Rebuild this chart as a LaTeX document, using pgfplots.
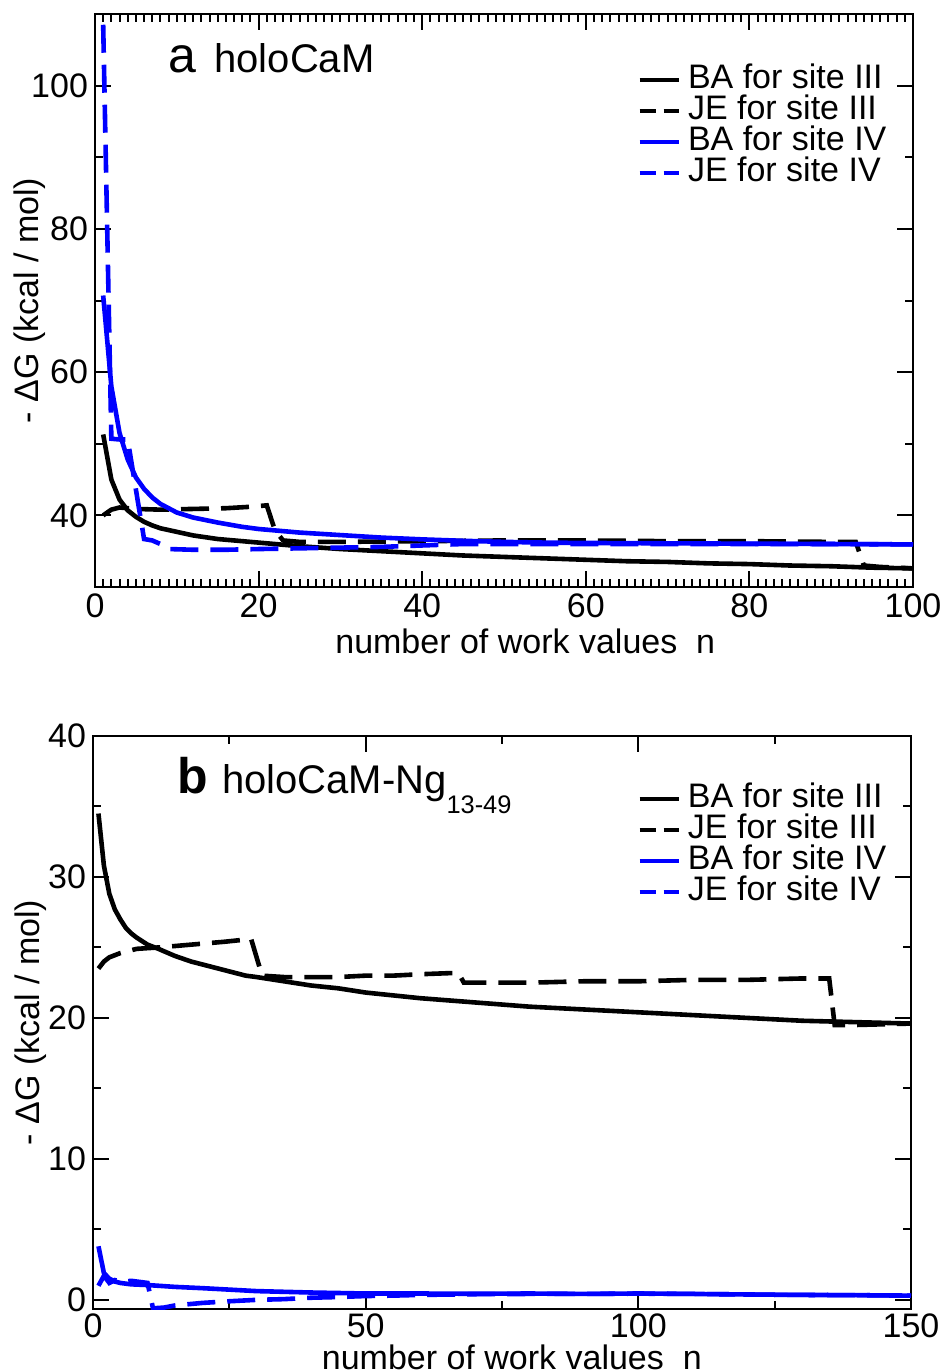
\documentclass[border=0pt]{standalone}
\usepackage{fontspec}
\setmainfont{Liberation Sans}
\usepackage{pgfplots}
\pgfplotsset{compat=1.18}

\newcommand{\lbl}{\fontsize{17}{17}\selectfont}

\pgfplotsset{
  panel/.style={
    scale only axis, width=409pt, height=286.5pt,
    anchor=north west,
    axis line style={line width=1pt},
    every tick/.style={line width=1pt, black},
    tick align=inside,
    major tick length=8pt, minor tick length=4pt,
    ticklabel style={font=\lbl},
    xticklabel style={inner sep=1pt, yshift=-2.3pt},
    label style={font=\lbl},
    xlabel style={inner sep=0pt, text depth=0pt},
    /pgf/number format/assume math mode=true,
    xlabel={number of work values~~n},
    ylabel={- ΔG (kcal / mol)},
    legend cell align=left,
    legend style={draw=none, fill=none, inner sep=0pt, row sep=0pt,
      column sep=3.5pt, font=\lbl, anchor=north west,
      nodes={inner sep=0pt, text height=12pt, text depth=3.5pt}},
    legend image code/.code={\draw[##1] (0pt,0pt) -- (19.5pt,0pt);},
  },
  jesty/.style={line width=2.3pt, dash pattern=on 14pt off 6pt},
  basty/.style={line width=2.3pt},
}

\begin{document}
\begin{tikzpicture}
\useasboundingbox (0,0) rectangle (474.5pt,-686pt);

%% panel a
\begin{axis}[panel, at={(47.5pt,-7pt)},
  xmin=0, xmax=100, ymin=30, ymax=110,
  xtick={0,20,...,100}, minor x tick num=19,
  ytick={40,60,80,100}, minor ytick={50,70,90},
  xlabel style={at={(axis description cs:0.526,-0.094)}, anchor=center},
  ylabel style={at={(axis description cs:-0.0795,0.5)}, anchor=center},
  legend style={at={(axis description cs:0.6626,0.9128)}},
]
\addlegendimage{black, line width=2.3pt}
\addlegendentry{BA for site III}
\addlegendimage{black, line width=2.3pt, dash pattern=on 8pt off 4pt}
\addlegendentry{JE for site III}
\addlegendimage{blue, line width=2.3pt}
\addlegendentry{BA for site IV}
\addlegendimage{blue, line width=2.3pt, dash pattern=on 8pt off 4pt}
\addlegendentry{JE for site IV}

% BA site III
\addplot[black, basty, forget plot] coordinates {
 (1,51.3) (2,45.0) (3,42.2) (4,40.7) (5,39.8) (6,39.1) (7,38.6) (8,38.2)
 (10,37.7) (12,37.2) (15,36.7) (18,36.4) (20,36.2) (22,36.0) (25,35.7)
 (30,35.3) (35,35.0) (40,34.7) (45,34.4) (50,34.2) (55,34.0) (60,33.8)
 (65,33.6) (70,33.5) (75,33.3) (80,33.2) (85,33.0) (90,32.9) (95,32.7) (100,32.6)
};
% JE site III
\addplot[black, jesty, forget plot] coordinates {
 (1,40.0) (2,40.8) (3,41.1) (4,41.0) (5,40.9) (8,40.8) (12,40.9) (16,41.0)
 (19,41.2) (21,41.4) (22,37.9) (23,36.5) (25,36.3) (30,36.3) (40,36.4)
 (50,36.5) (60,36.5) (70,36.4) (80,36.4) (90,36.3) (93,36.3) (94,33.0)
 (96,32.8) (100,32.6)
};
% BA site IV
\addplot[blue, basty, forget plot] coordinates {
 (1,70.7) (2,58.0) (3,51.5) (4,47.8) (5,45.3) (6,43.7) (7,42.5) (8,41.6)
 (10,40.4) (12,39.7) (15,39.0) (18,38.4) (20,38.1) (25,37.6) (30,37.25)
 (35,36.9) (40,36.65) (45,36.45) (50,36.3) (55,36.2) (60,36.15) (70,36.1)
 (80,36.05) (90,36.0) (100,35.95)
};
% JE site IV
\addplot[blue, jesty, forget plot] coordinates {
 (1,108.5) (2,50.7) (3,50.6) (4,50.6) (5,43.6) (6,36.7) (7,36.5) (8,36.0)
 (9,35.3) (12,35.2) (16,35.2) (20,35.3) (25,35.4) (30,35.5) (35,35.6)
 (40,35.8) (45,36.0) (50,36.0) (60,36.0) (70,36.0) (80,36.0) (90,36.0) (100,35.95)
};
\end{axis}

%% panel b
\begin{axis}[panel, at={(46.5pt,-368pt)},
  xmin=0, xmax=150, ymin=-0.65, ymax=40,
  xtick={0,50,100,150}, minor xtick={25,75,125},
  xticklabel style={yshift=1.2pt},
  ytick={0,10,...,40}, minor ytick={5,15,25,35},
  xlabel style={at={(axis description cs:0.512,-0.0835)}, anchor=center},
  ylabel style={at={(axis description cs:-0.0758,0.5)}, anchor=center},
  legend style={at={(axis description cs:0.665,0.918)}},
]
\addlegendimage{black, line width=2.3pt}
\addlegendentry{BA for site III}
\addlegendimage{black, line width=2.3pt, dash pattern=on 8pt off 4pt}
\addlegendentry{JE for site III}
\addlegendimage{blue, line width=2.3pt}
\addlegendentry{BA for site IV}
\addlegendimage{blue, line width=2.3pt, dash pattern=on 8pt off 4pt}
\addlegendentry{JE for site IV}

% BA site III
\addplot[black, basty, forget plot] coordinates {
 (1,34.5) (2,30.8) (3,28.8) (4,27.7) (5,27.0) (6,26.4) (7,26.0) (8,25.7)
 (10,25.2) (12,24.9) (15,24.4) (18,24.0) (20,23.8) (24,23.4) (28,23.0)
 (30,22.9) (35,22.6) (40,22.3) (45,22.1) (50,21.8) (60,21.4) (70,21.1)
 (80,20.8) (90,20.6) (100,20.4) (110,20.2) (120,20.0) (130,19.8) (140,19.7) (150,19.6)
};
% JE site III
\addplot[black, jesty, forget plot] coordinates {
 (1,23.5) (2,24.0) (3,24.3) (5,24.6) (8,24.9) (12,25.0) (18,25.2) (24,25.4)
 (29,25.6) (31,23.0) (35,22.9) (40,22.9) (45,22.9) (50,23.0) (55,23.0)
 (60,23.1) (67,23.2) (68,22.5) (80,22.5) (90,22.6) (100,22.6) (110,22.7)
 (120,22.7) (130,22.8) (135,22.8) (136,19.5) (140,19.5) (150,19.6)
};
% BA site IV
\addplot[blue, basty, forget plot] coordinates {
 (1,3.8) (2,1.9) (3,1.5) (4,1.3) (5,1.2) (7,1.1) (10,1.05) (15,0.92)
 (20,0.83) (30,0.62) (40,0.52) (50,0.45) (60,0.45) (70,0.43) (80,0.45)
 (90,0.42) (100,0.45) (110,0.42) (120,0.38) (130,0.35) (140,0.33) (150,0.3)
};
% JE site IV
\addplot[blue, jesty, forget plot] coordinates {
 (1,1.0) (2,1.7) (3,1.2) (4,1.4) (5,1.3) (6,1.3) (7,1.35) (8,1.3) (9,1.25)
 (10,1.2) (11,-0.6) (13,-0.55) (15,-0.4) (20,-0.22) (25,-0.1) (30,0.0)
 (35,0.05) (40,0.15) (45,0.2) (50,0.27) (55,0.3) (60,0.35) (70,0.4)
 (80,0.42) (90,0.42) (100,0.44) (110,0.42) (120,0.38) (130,0.35) (140,0.33) (150,0.3)
};
\end{axis}

%% panel titles
\node[anchor=base west, inner sep=0pt, font=\fontsize{25}{25}\selectfont] at (84pt,-36pt) {a};
\node[anchor=base west, inner sep=0pt, font=\fontsize{20}{20}\selectfont] at (107pt,-36pt) {holoCaM};
\node[anchor=base west, inner sep=0pt, font=\fontsize{25}{25}\selectfont\bfseries] at (88.3pt,-396.7pt) {b};
\node[anchor=base west, inner sep=0pt, font=\fontsize{20}{20}\selectfont] at (110.8pt,-396.7pt)
  {holoCaM-Ng\raisebox{-10pt}{\fontsize{12.7}{13}\selectfont 13-49}};
\end{tikzpicture}
\end{document}
